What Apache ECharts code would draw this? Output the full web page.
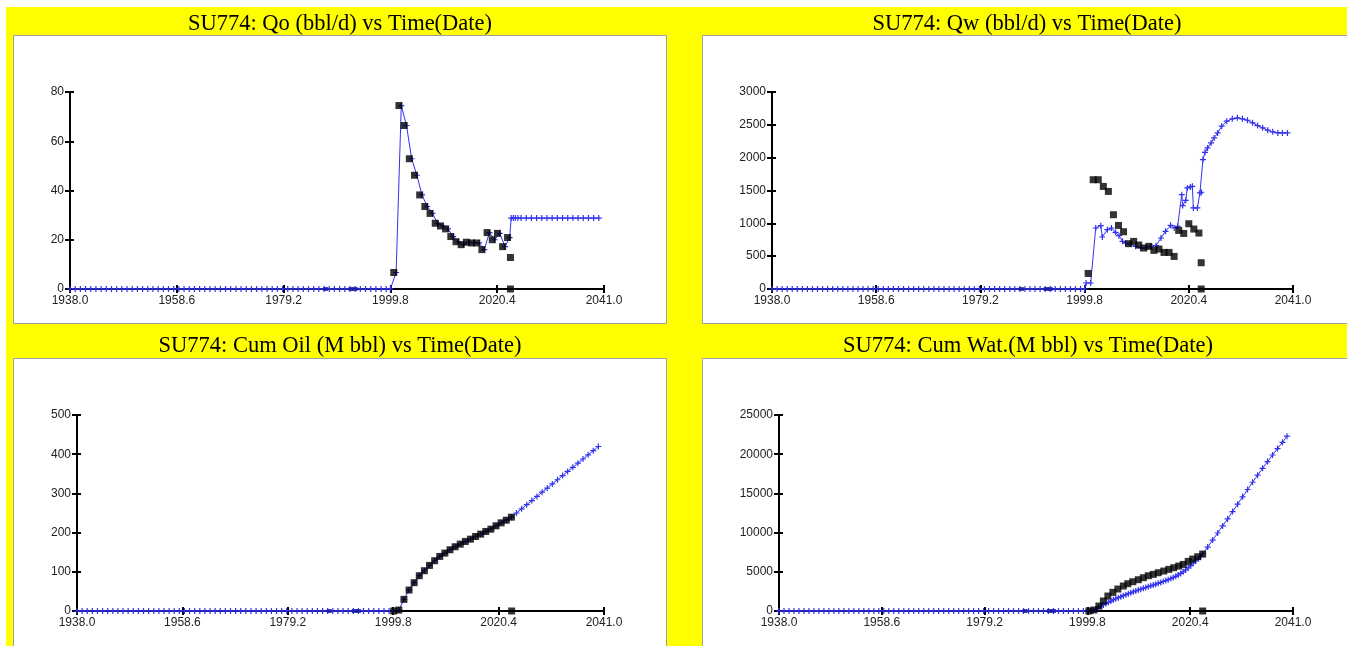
<!DOCTYPE html>
<html>
<head>
<meta charset="utf-8">
<script src="https://cdn.jsdelivr.net/npm/echarts@6/dist/echarts.min.js"></script>
<style>
html,body{margin:0;padding:0;background:#fff;}
#c{width:1347px;height:646px;}
</style>
</head>
<body>
<div id="c"></div>
<script>
// ---------- data ----------
const X0 = 1938;                         // x-axis origin (year)
const xTickLabels = ['1938.0','1958.6','1979.2','1999.8','2020.4','2041.0'];
const titles = [
  'SU774: Qo (bbl/d) vs Time(Date)',
  'SU774: Qw (bbl/d) vs Time(Date)',
  'SU774: Cum Oil (M bbl) vs Time(Date)',
  'SU774: Cum Wat.(M bbl) vs Time(Date)'
];
const yMax = [80, 3000, 500, 25000];
const yInterval = [20, 500, 100, 5000];

// simulated zero period (shared by all four plots)
const simZeroYears = [1938,1939,1940,1941,1942,1943,1944,1945,1946,1947,1948,1949,1950,1951,1952,1953,1954,1955,1956,1957,1958,1959,1960,1961,1962,1963,1964,1965,1966,1967,1968,1969,1970,1971,1972,1973,1974,1975,1976,1977,1978,1979,1980,1981,1982,1983,1984,1985,1986,1987,1988,1989,1990,1991,1992,1993,1994,1995,1996,1997,1998,1999,1999.8];
// small blue observed markers on the zero line
const blueObsYears = [1987.3, 1992.2, 1993.0];

// Qo (bbl/d)
const qoObsYears = [2000.45,2001.45,2002.45,2003.45,2004.45,2005.45,2006.45,2007.45,2008.45,2009.45,2010.45,2011.45,2012.45,2013.45,2014.45,2015.45,2016.45,2017.45,2018.45,2019.45,2020.45,2021.45,2022.4,2022.95,2022.95];
const qoObs      = [6.7,74.5,66.4,52.9,46.2,38.2,33.5,30.7,26.7,25.6,24.4,21.3,19.2,18.0,19.0,18.7,18.7,16.0,22.9,20.0,22.6,17.2,20.9,12.8,0];
const qoSimYears = [2000.9,2001.9,2002.9,2003.9,2004.9,2005.9,2006.9,2007.9,2008.9,2009.9,2010.9,2011.9,2012.9,2013.9,2014.9,2015.9,2016.9,2017.9,2018.9,2019.9,2020.9,2021.9,2022.8,2023.1,2023.5,2023.9,2024.4,2025,2026,2027,2028,2029,2030,2031,2032,2033,2034,2035,2036,2037,2038,2039,2040];
const qoSim      = [6.7,74.5,66.4,52.9,46.2,38.2,33.5,30.7,26.7,25.6,24.4,21.3,19.2,18.0,19.0,18.7,18.7,16.0,22.9,20.0,22.6,17.2,20.9,28.8,28.8,28.8,28.8,28.8,28.8,28.8,28.8,28.8,28.8,28.8,28.8,28.8,28.8,28.8,28.8,28.8,28.8,28.8,28.8];

// Qw (bbl/d)
const qwObsYears = [2000.5,2001.5,2002.5,2003.5,2004.5,2005.5,2006.5,2007.5,2008.5,2009.5,2010.5,2011.5,2012.5,2013.5,2014.5,2015.5,2016.5,2017.5,2018.4,2019.4,2020.4,2021.4,2022.4,2022.85,2022.85];
const qwObs      = [237,1664,1664,1562,1486,1131,968,872,690,725,670,624,649,588,608,557,557,496,892,846,994,913,852,400,0];
const qwSimYears = [2000.1,2001.0,2002.0,2003.0,2003.3,2004.3,2005.1,2005.9,2006.6,2007.3,2007.9,2008.8,2009.9,2010.9,2011.9,2012.9,2013.9,2014.9,2015.8,2016.8,2017.5,2018.2,2019.0,2019.2,2019.8,2020.1,2020.7,2021.1,2021.3,2022.1,2022.6,2022.9,2023.2,2023.6,2024.1,2024.8,2025.4,2026.1,2026.9,2027.9,2029.0,2030.0,2031.0,2032.0,2033.0,2034.0,2035.0,2036.0,2037.0,2038.0,2038.9,2039.9];
const qwSim      = [91,91,929,964,792,904,929,863,812,726,700,685,650,624,624,650,660,777,878,970,929,954,1437,1270,1351,1539,1554,1564,1234,1234,1463,1473,1971,2082,2148,2225,2301,2377,2479,2555,2591,2606,2591,2570,2530,2489,2454,2418,2393,2377,2377,2377];

// Cum oil (M bbl)
const coObsYears = [1999.9,2000.9,2001.9,2002.9,2003.9,2004.9,2005.9,2006.9,2007.9,2008.9,2009.9,2010.9,2011.9,2012.9,2013.9,2014.9,2015.9,2016.9,2017.9,2018.9,2019.9,2020.9,2021.9,2022.9,2022.95];
const coObs      = [0,2.4,29.7,53.5,72.2,90.0,102.7,116.3,128.2,139.2,147.7,156.2,163.8,170.6,177.4,183.3,190.1,196.1,202.9,208.8,217.3,224.9,231.7,239.4,0];
const coSimYears = [2000.9,2001.9,2002.9,2003.9,2004.9,2005.9,2006.9,2007.9,2008.9,2009.9,2010.9,2011.9,2012.9,2013.9,2014.9,2015.9,2016.9,2017.9,2018.9,2019.9,2020.9,2021.9,2022.9,2023.9,2024.9,2025.9,2026.9,2027.9,2028.9,2029.9,2030.9,2031.9,2032.9,2033.9,2034.9,2035.9,2036.9,2037.9,2038.9,2039.9];
const coSim      = [2.4,29.7,53.5,72.2,90.0,102.7,116.3,128.2,139.2,147.7,156.2,163.8,170.6,177.4,183.3,190.1,196.1,202.9,208.8,217.3,224.9,231.7,239.4,250.0,260.6,271.2,281.8,292.4,303.0,313.6,324.2,334.8,345.4,356.0,366.6,377.2,387.8,398.4,409.0,419.6];

// Cum water (M bbl)
const cwObsYears = [2000.1,2001.1,2002.1,2003.0,2003.9,2004.9,2005.9,2007.0,2007.9,2008.9,2010.0,2011.0,2012.0,2013.0,2014.0,2015.1,2016.1,2017.1,2018.1,2019.0,2020.0,2020.9,2021.9,2022.9,2022.9];
const cwObs      = [0,127,637,1274,1910,2377,2802,3184,3481,3736,3990,4245,4500,4670,4882,5094,5307,5519,5731,5943,6325,6623,6920,7259,0];
const cwSimYears = [2000.5,2001.0,2001.5,2002.0,2002.5,2003.0,2003.5,2004.0,2004.5,2005.0,2005.5,2006.0,2006.5,2007.0,2007.5,2008.0,2008.5,2009.0,2009.5,2010.0,2010.5,2011.0,2011.5,2012.0,2012.5,2013.0,2013.5,2014.0,2014.5,2015.0,2015.5,2016.0,2016.5,2017.0,2017.5,2018.0,2018.5,2019.0,2019.5,2020.0,2020.5,2021.0,2021.5,2022.0,2022.5,2022.9,2023.9,2024.9,2025.9,2026.9,2027.9,2028.9,2029.9,2030.9,2031.9,2032.9,2033.9,2034.9,2035.9,2036.9,2037.9,2038.9,2039.8];
const cwSim      = [20,60,220,430,610,780,950,1110,1270,1420,1560,1700,1830,1960,2080,2200,2320,2440,2560,2680,2790,2890,3000,3100,3210,3310,3420,3530,3640,3760,3880,4000,4130,4270,4420,4600,4790,5000,5240,5500,5780,6100,6380,6650,6950,7300,8150,9050,9950,10850,11750,12680,13620,14560,15500,16420,17320,18200,19060,19900,20720,21520,22300];

// ---------- layout / style ----------
const SANS = '"Liberation Sans", Arial, sans-serif';
const SERIF = '"Liberation Serif", "Times New Roman", serif';
const BLUE = '#3232ee';
const grids = [
  {left: 70,  top: 92,  width: 534, height: 197},
  {left: 772, top: 92,  width: 521, height: 197},
  {left: 77,  top: 415, width: 527, height: 196},
  {left: 779, top: 415, width: 514, height: 196}
];
const panels = [
  {x: 13.5,  y: 35.5,  w: 653, h: 288},
  {x: 702.5, y: 35.5,  w: 700, h: 288},
  {x: 13.5,  y: 358.5, w: 653, h: 300},
  {x: 702.5, y: 358.5, w: 700, h: 300}
];
const titlePos = [[340, 24], [1027, 24], [340, 346], [1028, 346]];

const crossPath = 'path://M4,0L6,0L6,4L10,4L10,6L6,6L6,10L4,10L4,6L0,6L0,4L4,4Z';

const sets = [
  [qoSimYears, qoSim, qoObsYears, qoObs],
  [qwSimYears, qwSim, qwObsYears, qwObs],
  [coSimYears, coSim, coObsYears, coObs],
  [cwSimYears, cwSim, cwObsYears, cwObs]
];

const xAxes = [], yAxes = [], series = [];
grids.forEach((g, i) => {
  const axisLine = {show: true, onZero: false, lineStyle: {color: '#000', width: 2}};
  const tickStyle = {color: '#000', width: 2};
  const xBase = {gridIndex: i, type: 'value', position: 'bottom', offset: 0,
    min: 0, max: 103, interval: 20.6, z: 5, axisLine: axisLine, splitLine: {show: false}};
  xAxes.push(Object.assign({}, xBase, {
    axisTick: {show: true, inside: false, length: 4, lineStyle: tickStyle},
    axisLabel: {show: true, margin: 6, fontSize: 12, fontFamily: SANS, color: '#222',
      formatter: (v, idx) => xTickLabels[idx] !== undefined ? xTickLabels[idx] : (v + X0).toFixed(1)}
  }));
  xAxes.push(Object.assign({}, xBase, {
    axisTick: {show: true, inside: true, length: 4, lineStyle: tickStyle},
    axisLabel: {show: false}
  }));
  const yBase = {gridIndex: i, type: 'value', position: 'left', offset: 0,
    min: 0, max: yMax[i], interval: yInterval[i], z: 5, axisLine: axisLine, splitLine: {show: false}};
  yAxes.push(Object.assign({}, yBase, {
    axisTick: {show: true, inside: false, length: 5, lineStyle: tickStyle},
    axisLabel: {show: true, margin: 6, fontSize: 12, fontFamily: SANS, color: '#222',
      formatter: v => String(v)}
  }));
  yAxes.push(Object.assign({}, yBase, {
    axisTick: {show: true, inside: true, length: 4, lineStyle: tickStyle},
    axisLabel: {show: false}
  }));

  const [sy, sv, oy, ov] = sets[i];
  const simData = simZeroYears.map(y => [y - X0, 0]).concat(sy.map((y, k) => [y - X0, sv[k]]));
  series.push({
    type: 'line', xAxisIndex: 2 * i, yAxisIndex: 2 * i, data: simData, z: 10,
    symbol: crossPath, symbolSize: 6, showSymbol: true, showAllSymbol: true,
    lineStyle: {color: BLUE, width: 1}, itemStyle: {color: BLUE},
    animation: false, silent: true
  });
  series.push({
    type: 'scatter', xAxisIndex: 2 * i, yAxisIndex: 2 * i, z: 11,
    data: blueObsYears.map(y => [y - X0, 0]),
    symbol: 'rect', symbolSize: [5, 4], itemStyle: {color: '#1a1aa8'},
    animation: false, silent: true
  });
  series.push({
    type: 'scatter', xAxisIndex: 2 * i, yAxisIndex: 2 * i, z: 12,
    data: oy.map((y, k) => [y - X0, ov[k]]),
    symbol: 'rect', symbolSize: 7, itemStyle: {color: '#000'},
    animation: false, silent: true
  });
});

const graphic = [
  {type: 'rect', z: 0, shape: {x: 6, y: 7, width: 1341, height: 639}, style: {fill: '#ffff00'}, silent: true}
];
panels.forEach(p => graphic.push({
  type: 'rect', z: 1, shape: {x: p.x, y: p.y, width: p.w, height: p.h},
  style: {fill: '#ffffff', stroke: '#a0a0a0', lineWidth: 1}, silent: true
}));
titles.forEach((t, i) => graphic.push({
  type: 'text', z: 2, x: titlePos[i][0], y: titlePos[i][1], silent: true,
  style: {text: t, fill: '#000', fontSize: 22.5, fontFamily: SERIF,
    align: 'center', verticalAlign: 'middle', textAlign: 'center', textVerticalAlign: 'middle'}
}));

const chart = echarts.init(document.getElementById('c'), null, {renderer: 'canvas'});
chart.setOption({
  animation: false,
  backgroundColor: '#ffffff',
  grid: grids.map(g => Object.assign({show: false, containLabel: false, outerBoundsMode: 'none'}, g)),
  xAxis: xAxes,
  yAxis: yAxes,
  series: series,
  graphic: graphic
});
</script>
</body>
</html>
